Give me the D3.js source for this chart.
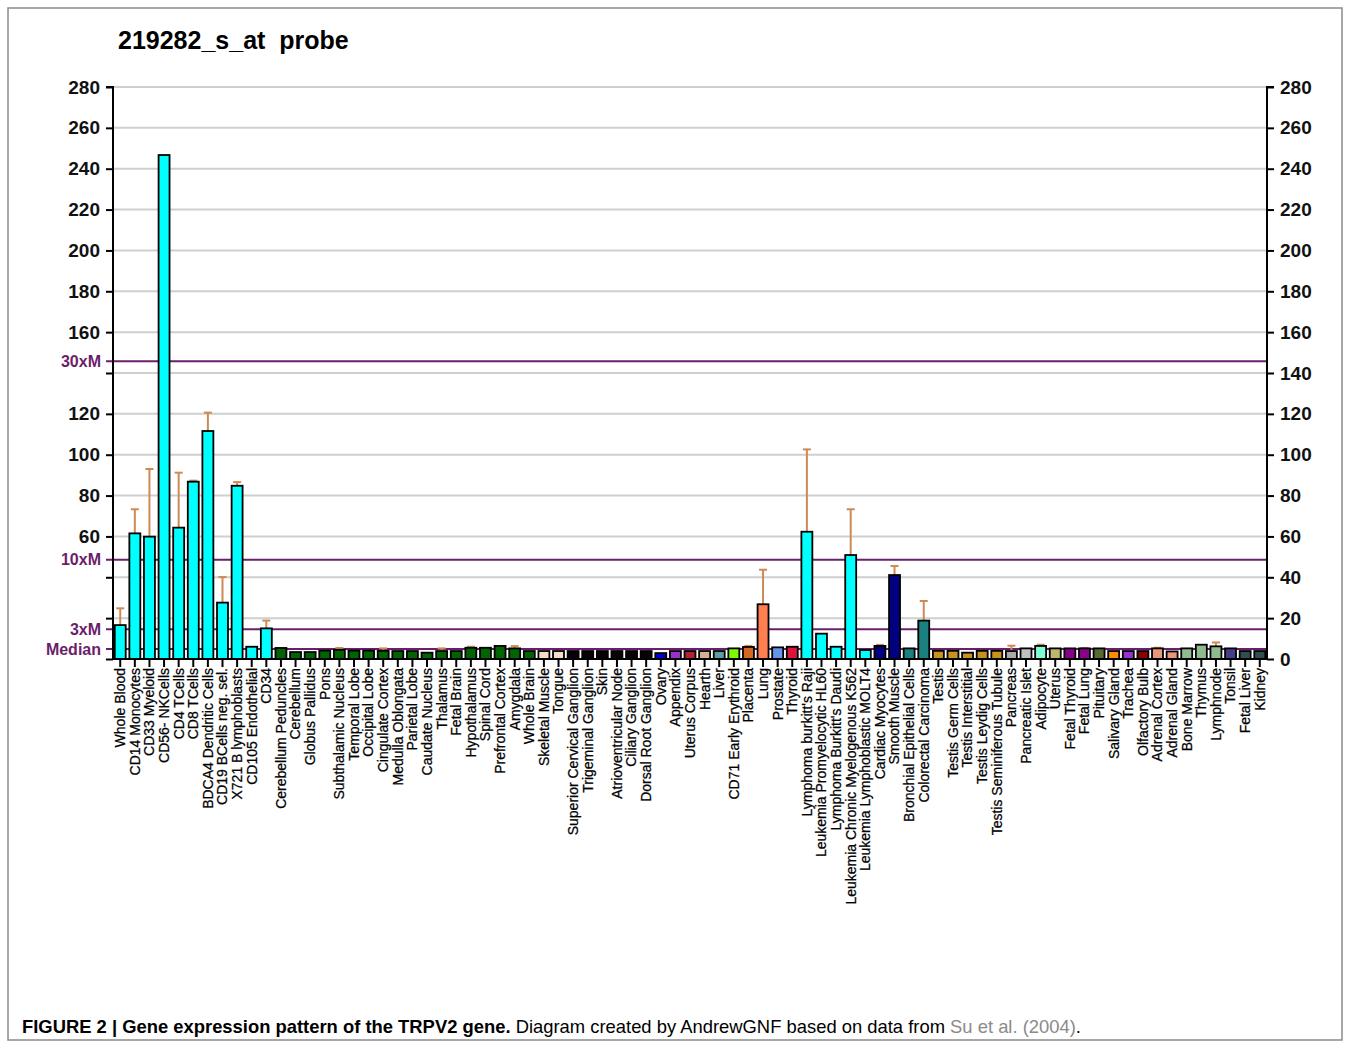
<!DOCTYPE html>
<html>
<head>
<meta charset="utf-8">
<script src="https://cdn.jsdelivr.net/npm/d3@7"></script>
<style>
  body { margin: 0; background: #fff; }
  svg { display: block; font-family: "Liberation Sans", Arial, sans-serif; }
  .axis path, .axis line { stroke: #000; stroke-width: 2; }
  .yAxis text { font-size: 19px; font-weight: bold; fill: #111; }
  .xAxis text { font-size: 14px; fill: #000; stroke: #000; stroke-width: 0.25; }
  .grid { stroke: #cfcfcf; stroke-width: 2; }
  .mline { stroke: #6b1e6b; stroke-width: 2; }
  .mlabel { fill: #6b1e6b; font-size: 16px; font-weight: bold; text-anchor: end; }
  .bar { stroke: #000; stroke-width: 1.8; }
  .err { stroke: #cd8a55; stroke-width: 2; }
  .caption { font-family: "Liberation Sans Narrow", "Arial Narrow", "Liberation Sans", sans-serif; font-size: 18.4px; }
</style>
</head>
<body>
<script>
'use strict'

// Tissues, left to right.
const tissues = [
    'Whole Blood', 'CD14 Monocytes', 'CD33 Myeloid', 'CD56- NKCells', 'CD4 TCells',
    'CD8 TCells', 'BDCA4 Dendritic Cells', 'CD19 BCells neg. sel.', 'X721 B lymphoblasts',
    'CD105 Endothelial', 'CD34', 'Cerebellum Peduncles', 'Cerebellum', 'Globus Pallidus',
    'Pons', 'Subthalamic Nucleus', 'Temporal Lobe', 'Occipital Lobe', 'Cingulate Cortex',
    'Medulla Oblongata', 'Parietal Lobe', 'Caudate Nucleus', 'Thalamus', 'Fetal Brain',
    'Hypothalamus', 'Spinal Cord', 'Prefrontal Cortex', 'Amygdala', 'Whole Brain',
    'Skeletal Muscle', 'Tongue', 'Superior Cervical Ganglion', 'Trigeminal Ganglion', 'Skin',
    'Atrioventricular Node', 'Ciliary Ganglion', 'Dorsal Root Ganglion', 'Ovary', 'Appendix',
    'Uterus Corpus', 'Hearth', 'Liver', 'CD71 Early Erythroid', 'Placenta', 'Lung',
    'Prostate', 'Thyroid', "Lymphoma burkitt's Raji", 'Leukemia Promyelocytic HL60',
    "Lymphoma Burkitt's Daudi", 'Leukemia Chronic Myelogenous K562',
    'Leukemia Lymphoblastic MOLT4', 'Cardiac Myocytes', 'Smooth Muscle',
    'Bronchial Epithelial Cells', 'Colorectal Carcinoma', 'Testis', 'Testis Germ Cells',
    'Testis Interstitial', 'Testis Leydig Cells', 'Testis Seminiferous Tubule', 'Pancreas',
    'Pancreatic Islet', 'Adipocyte', 'Uterus', 'Fetal Thyroid', 'Fetal Lung', 'Pituitary',
    'Salivary Gland', 'Trachea', 'Olfactory Bulb', 'Adrenal Cortex', 'Adrenal Gland',
    'Bone Marrow', 'Thymus', 'Lymphnode', 'Tonsil', 'Fetal Liver', 'Kidney'
];

// Mean expression per tissue.
const values = [
    16.6, 61.5, 59.9, 246.7, 64.3, 86.8, 111.6, 27.6, 84.8, 6.0,
    15.0, 5.4, 3.4, 3.4, 4.1, 4.5, 4.1, 4.1, 4.0, 3.9,
    3.9, 3.1, 3.9, 3.9, 5.5, 5.5, 6.4, 5.2, 3.9, 3.9,
    3.9, 3.9, 3.9, 3.9, 3.9, 3.9, 3.9, 2.9, 3.9, 3.9,
    3.9, 3.9, 5.2, 5.9, 26.8, 5.7, 6.0, 62.3, 12.4, 6.0,
    50.9, 4.4, 6.4, 41.1, 5.2, 18.8, 4.0, 4.0, 3.1, 4.0,
    4.0, 3.9, 5.2, 6.4, 5.2, 5.2, 5.2, 5.2, 3.9, 3.9,
    3.9, 5.2, 3.7, 5.2, 7.0, 6.2, 5.2, 3.9, 3.9
];

// Top of the error bar (null = none drawn).
const errTops = [
    24.8, 73.3, 93.0, null, 91.2, 87.3, 120.6, 40.1, 86.6, null,
    18.8, null, null, null, null, 5.4, null, null, 5.2, null,
    null, null, 5.2, null, 6.0, null, null, 6.3, null, null,
    null, null, null, null, null, null, null, null, null, null,
    null, null, null, 6.4, 43.7, null, null, 102.6, null, null,
    73.3, null, 6.9, 45.5, null, 28.4, null, null, null, null,
    null, 6.5, null, 7.0, null, null, 5.4, null, null, null,
    null, 5.5, null, null, null, 8.1, null, null, null
];

// Bar fill per tissue.
const colors = [
    '#00ffff', '#00ffff', '#00ffff', '#00ffff', '#00ffff', '#00ffff', '#00ffff', '#00ffff',
    '#00ffff', '#00ffff', '#00ffff',
    '#006400', '#006400', '#006400', '#006400', '#006400', '#006400', '#006400', '#006400',
    '#006400', '#006400', '#006400', '#006400', '#006400', '#006400', '#006400', '#006400',
    '#006400', '#006400',
    '#f7dcc8', '#f7dcc8',
    '#0a000a', '#0a000a', '#0a000a', '#0a000a', '#0a000a', '#0a000a',
    '#0000cd', '#9932cc', '#b22234', '#d2b48c', '#5f9ea0', '#7cfc00', '#d2691e', '#ff7f50',
    '#6495ed', '#dc143c',
    '#00ffff', '#00ffff', '#00ffff', '#00ffff', '#00ffff',
    '#000080', '#000080', '#1a8080', '#1a8080',
    '#c8921e', '#c8921e', '#c8921e', '#c8921e', '#c8921e',
    '#a9a9a9', '#c0c0c0', '#7fffd4', '#bdb76b', '#8b008b', '#8b008b', '#556b2f', '#ff8c00',
    '#9932cc', '#8b0000', '#e9967a', '#e9967a', '#8fbc8f', '#8fbc8f', '#8fbc8f', '#483d8b',
    '#2f4f4f', '#2f4f4f'
];

// Reference lines: median and multiples.
const refNames = ['Median', '3xM', '10xM', '30xM'];
const refValues = [4.86, 14.6, 48.6, 145.8];

const yTicks = d3.range(0, 281, 20);
const leftHidden = [0, 20, 40, 140];

const data = tissues.map((t, i) => ({
    tissue: t, value: values[i], err: errTops[i], color: colors[i]
}));

const W = 1350, H = 1048;
const plot = {left: 113, right: 1267, top: 87, bottom: 659};

const svg = d3.select('body').append('svg')
    .attr('width', W)
    .attr('height', H);

// Figure frame.
svg.append('rect')
    .attr('x', 8).attr('y', 8)
    .attr('width', 1334).attr('height', 1032)
    .attr('fill', 'none')
    .attr('stroke', '#8a8a8a')
    .attr('stroke-width', 1.5);

const x = d3.scaleBand()
    .domain(tissues)
    .range([plot.left, plot.right])
    .paddingInner(0.25)
    .paddingOuter(0.12);

const y = d3.scaleLinear()
    .domain([0, 280])
    .range([plot.bottom, plot.top]);

// Title.
svg.append('text')
    .attr('x', 118)
    .attr('y', 49)
    .style('font-size', '25px')
    .style('font-weight', 'bold')
    .attr('xml:space', 'preserve')
    .text('219282_s_at  probe');

// Gridlines.
svg.append('g')
    .selectAll('line')
    .data(yTicks.filter(d => d > 0))
    .join('line')
    .attr('class', 'grid')
    .attr('x1', plot.left).attr('x2', plot.right)
    .attr('y1', d => y(d)).attr('y2', d => y(d));

// Median lines.
svg.append('g')
    .selectAll('line')
    .data(refValues)
    .join('line')
    .attr('class', 'mline')
    .attr('x1', plot.left - 7).attr('x2', plot.right)
    .attr('y1', d => y(d)).attr('y2', d => y(d));

svg.append('g')
    .selectAll('text')
    .data(refValues)
    .join('text')
    .attr('class', 'mlabel')
    .attr('x', plot.left - 12)
    .attr('y', d => y(d))
    .attr('dy', '0.35em')
    .text((d, i) => refNames[i]);

// Error bars.
const errData = data.filter(d => d.err != null);
const eg = svg.append('g');
eg.selectAll('line.v')
    .data(errData)
    .join('line')
    .attr('class', 'err v')
    .attr('x1', d => x(d.tissue) + x.bandwidth() / 2)
    .attr('x2', d => x(d.tissue) + x.bandwidth() / 2)
    .attr('y1', d => y(d.value))
    .attr('y2', d => y(d.err));
eg.selectAll('line.cap')
    .data(errData)
    .join('line')
    .attr('class', 'err cap')
    .attr('x1', d => x(d.tissue) + x.bandwidth() / 2 - 4)
    .attr('x2', d => x(d.tissue) + x.bandwidth() / 2 + 4)
    .attr('y1', d => y(d.err))
    .attr('y2', d => y(d.err));

// Bars.
svg.append('g')
    .selectAll('rect')
    .data(data)
    .join('rect')
    .attr('class', 'bar')
    .attr('x', d => x(d.tissue))
    .attr('y', d => y(d.value))
    .attr('width', x.bandwidth())
    .attr('height', d => y(0) - y(d.value))
    .style('fill', d => d.color);

// Axes.
svg.append('g')
    .attr('class', 'axis yAxis')
    .attr('transform', `translate(${plot.left},0)`)
    .call(d3.axisLeft(y).tickValues(yTicks).tickSize(7).tickPadding(6)
        .tickFormat(d => leftHidden.includes(d) ? '' : d))
    .call(g => g.select('.domain').attr('d', `M-7,${plot.top}H0V${plot.bottom}`));

svg.append('g')
    .attr('class', 'axis yAxis')
    .attr('transform', `translate(${plot.right},0)`)
    .call(d3.axisRight(y).tickValues(yTicks).tickSize(7).tickPadding(6))
    .call(g => g.select('.domain').attr('d', `M7,${plot.top}H0V${plot.bottom}`));

const xAxis = svg.append('g')
    .attr('class', 'axis xAxis')
    .attr('transform', `translate(0,${plot.bottom})`)
    .call(d3.axisBottom(x).tickSize(8).tickSizeOuter(0));

xAxis.select('.domain').attr('d', `M${plot.left},0H${plot.right}`);

xAxis.selectAll('.tick text')
    .attr('transform', 'rotate(-90)')
    .attr('x', -9)
    .attr('y', 0)
    .attr('dy', '0.35em')
    .style('text-anchor', 'end');

// Caption.
const cap = svg.append('text')
    .attr('class', 'caption')
    .attr('x', 22)
    .attr('y', 1033);
cap.append('tspan').style('font-weight', 'bold')
    .text('FIGURE 2 | Gene expression pattern of the TRPV2 gene.');
cap.append('tspan').text(' Diagram created by AndrewGNF based on data from ');
cap.append('tspan').style('fill', '#8a8a8a').text('Su et al. (2004)');
cap.append('tspan').text('.');
</script>
</body>
</html>
